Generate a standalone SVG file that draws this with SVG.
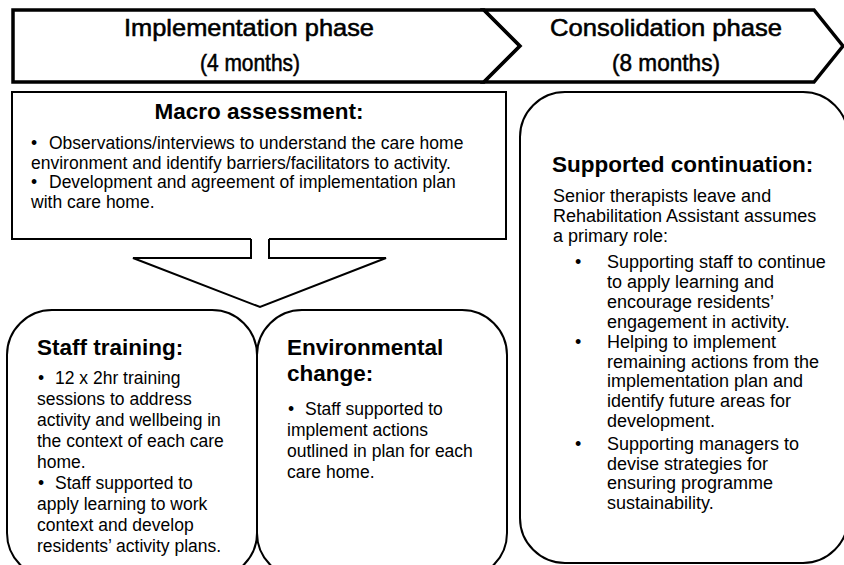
<svg xmlns="http://www.w3.org/2000/svg" width="844" height="565" viewBox="0 0 844 565">
  <style>
    text { font-family: "Liberation Sans", Arial, sans-serif; fill: #000; }
    .hdr { font-size: 24px; text-anchor: middle; stroke: #000; stroke-width: 0.55; }
    .ttl { font-size: 22.5px; font-weight: bold; }
    .body { font-size: 17.5px; }
    .body2 { font-size: 18px; }
    .phase { fill: #fff; stroke: #000; stroke-width: 3.5; stroke-linejoin: miter; }
    .box { fill: #fff; stroke: #000; stroke-width: 2; }
    .arrow { fill: #fff; stroke: #000; stroke-width: 2; stroke-linejoin: miter; }
  </style>
  <rect width="844" height="565" fill="#fff"/>

  <!-- Phase banner -->
  <g id="phase-implementation">
    <path class="phase" d="M13,10 H484 L520,46 L484,82 H13 Z"/>
    <text class="hdr" x="249" y="36" textLength="250" lengthAdjust="spacingAndGlyphs">Implementation phase</text>
    <text class="hdr" x="250" y="71" textLength="100" lengthAdjust="spacingAndGlyphs">(4 months)</text>
  </g>
  <g id="phase-consolidation">
    <path class="phase" d="M484,10 H814 L843,46 L814,82 H484 L520,46 Z"/>
    <text class="hdr" x="666" y="36" textLength="232" lengthAdjust="spacingAndGlyphs">Consolidation phase</text>
    <text class="hdr" x="666" y="71" textLength="108" lengthAdjust="spacingAndGlyphs">(8 months)</text>
  </g>

  <!-- Macro assessment (bottom edge opens into the arrow stem) -->
  <g id="macro-assessment">
    <path class="box" d="M251,239 H12 V92 H506 V239 H269"/>
    <text class="ttl" x="259" y="119" text-anchor="middle">Macro assessment:</text>
    <text class="body" x="31" y="149">•<tspan x="49">Observations/interviews to understand the care home</tspan></text>
    <text class="body" x="31" y="168.5">environment and identify barriers/facilitators to activity.</text>
    <text class="body" x="31" y="188">•<tspan x="49">Development and agreement of implementation plan</tspan></text>
    <text class="body" x="31" y="207.5">with care home.</text>
  </g>

  <!-- Block arrow from assessment down to the two workstreams -->
  <g id="connectors">
    <path class="arrow" d="M251,239 V258 H133 L260,307 L386,258 H269 V239"/>
  </g>

  <g id="staff-training">
    <rect class="box" x="7" y="310" width="250" height="268" rx="45" ry="45"/>
    <text class="ttl" x="37" y="355">Staff training:</text>
    <text class="body" x="38" y="384">•<tspan x="55">12 x 2hr training</tspan></text>
    <text class="body" x="37" y="405">sessions to address</text>
    <text class="body" x="37" y="426">activity and wellbeing in</text>
    <text class="body" x="37" y="447">the context of each care</text>
    <text class="body" x="37" y="468">home.</text>
    <text class="body" x="38" y="489">•<tspan x="55">Staff supported to</tspan></text>
    <text class="body" x="37" y="510">apply learning to work</text>
    <text class="body" x="37" y="531">context and develop</text>
    <text class="body" x="37" y="552">residents’ activity plans.</text>
  </g>

  <g id="environmental-change">
    <rect class="box" x="257" y="310" width="250" height="268" rx="45" ry="45"/>
    <text class="ttl" x="287" y="355">Environmental</text>
    <text class="ttl" x="287" y="381">change:</text>
    <text class="body" x="288" y="415">•<tspan x="305">Staff supported to</tspan></text>
    <text class="body" x="287" y="436">implement actions</text>
    <text class="body" x="287" y="457">outlined in plan for each</text>
    <text class="body" x="287" y="478">care home.</text>
  </g>

  <g id="supported-continuation">
    <rect class="box" x="520" y="92" width="328" height="471" rx="45" ry="45"/>
    <text class="ttl" x="552" y="172">Supported continuation:</text>
    <text class="body2" x="553" y="202">Senior therapists leave and</text>
    <text class="body2" x="553" y="222">Rehabilitation Assistant assumes</text>
    <text class="body2" x="553" y="242">a primary role:</text>
    <text class="body2" x="575" y="268">•<tspan x="607">Supporting staff to continue</tspan></text>
    <text class="body2" x="607" y="288">to apply learning and</text>
    <text class="body2" x="607" y="308">encourage residents’</text>
    <text class="body2" x="607" y="327.5">engagement in activity.</text>
    <text class="body2" x="575" y="347.5">•<tspan x="607">Helping to implement</tspan></text>
    <text class="body2" x="607" y="367.5">remaining actions from the</text>
    <text class="body2" x="607" y="387">implementation plan and</text>
    <text class="body2" x="607" y="406.5">identify future areas for</text>
    <text class="body2" x="607" y="426.5">development.</text>
    <text class="body2" x="575" y="449.5">•<tspan x="607">Supporting managers to</tspan></text>
    <text class="body2" x="607" y="469.5">devise strategies for</text>
    <text class="body2" x="607" y="489">ensuring programme</text>
    <text class="body2" x="607" y="508.5">sustainability.</text>
  </g>
</svg>
